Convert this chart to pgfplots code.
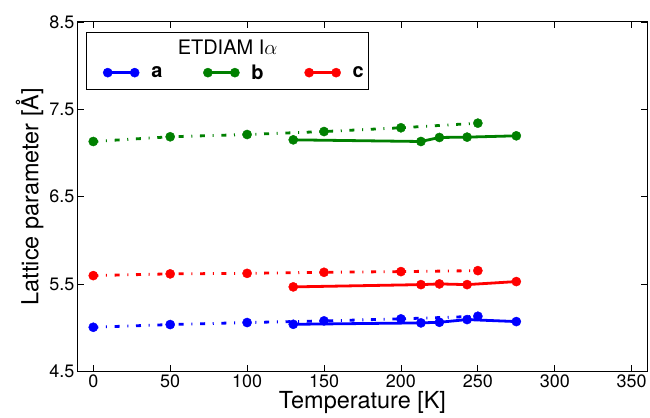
\documentclass[border=0pt]{standalone}
\usepackage{fontspec}
\setmainfont{TeX Gyre Heros}
\usepackage{pgfplots}
\pgfplotsset{compat=1.18}
\definecolor{mblue}{rgb}{0,0,1}
\definecolor{mgreen}{rgb}{0,0.5,0}
\definecolor{mred}{rgb}{1,0,0}
\tikzset{ddot/.style={dash pattern=on 5pt off 7.7pt on 1pt off 7.7pt}}
\begin{document}
\begin{tikzpicture}
\begin{axis}[
  scale only axis, width=570pt, height=350pt,
  xmin=-10, xmax=360, ymin=4.5, ymax=8.5,
  xtick={0,50,...,350}, ytick={4.5,5.5,6.5,7.5,8.5},
  yticklabel style={/pgf/number format/.cd,fixed,fixed zerofill,precision=1},
  /pgf/number format/assume math mode=true,
  tick align=inside, major tick length=6pt,
  axis line style={line width=1pt}, tick style={black, line width=0.8pt},
  ticklabel style={font=\fontsize{18}{20}\selectfont},
  label style={font=\fontsize{23.5}{26}\selectfont},
  xlabel={Temperature [K]}, ylabel={Lattice parameter [Å]},
  xlabel style={yshift=3pt},
  ylabel style={yshift=-1pt},
  every axis plot/.append style={line width=2.8pt, mark=*, mark size=4.6pt, mark options={solid, line width=0.4pt}},
  legend columns=3,
  legend image code/.code={\draw[#1, mark repeat=1] plot coordinates {(0pt,0pt) (27pt,0pt)};},
  legend style={draw=none, fill=none, inner sep=0pt, at={(axis description cs:0.044,0.855)}, anchor=west,
    font=\fontsize{20}{22}\selectfont\bfseries,
    /tikz/every odd column/.append style={column sep=10pt},
    /tikz/every even column/.append style={column sep=39pt}},
]
% dashed series
\addplot[mblue, ddot, forget plot] coordinates {(0,5.006) (50,5.037) (100,5.060) (150,5.079) (200,5.102) (250,5.132)};
\addplot[mgreen, ddot, forget plot] coordinates {(0,7.132) (50,7.186) (100,7.212) (150,7.246) (200,7.289) (250,7.342)};
\addplot[mred, ddot, forget plot] coordinates {(0,5.597) (50,5.617) (100,5.623) (150,5.635) (200,5.643) (250,5.654)};
% solid series
\addplot[mblue] coordinates {(130,5.040) (213,5.056) (225,5.063) (243,5.094) (275,5.071)};
\addlegendentry{a}
\addplot[mgreen] coordinates {(130,7.151) (213,7.132) (225,7.178) (243,7.182) (275,7.197)};
\addlegendentry{b}
\addplot[mred] coordinates {(130,5.468) (213,5.494) (225,5.502) (243,5.494) (275,5.529)};
\addlegendentry{c}
\draw[black, line width=1pt] (axis description cs:0.0158,0.806) rectangle (axis description cs:0.5105,0.971);
\node[font=\fontsize{20}{22}\selectfont] at (axis description cs:0.263,0.929) {ETDIAM I$\alpha$};
\end{axis}
\path (current axis.north east) ++(2pt,22pt);
\path (current axis.south west) ++(-78pt,0pt);
\end{tikzpicture}
\end{document}
